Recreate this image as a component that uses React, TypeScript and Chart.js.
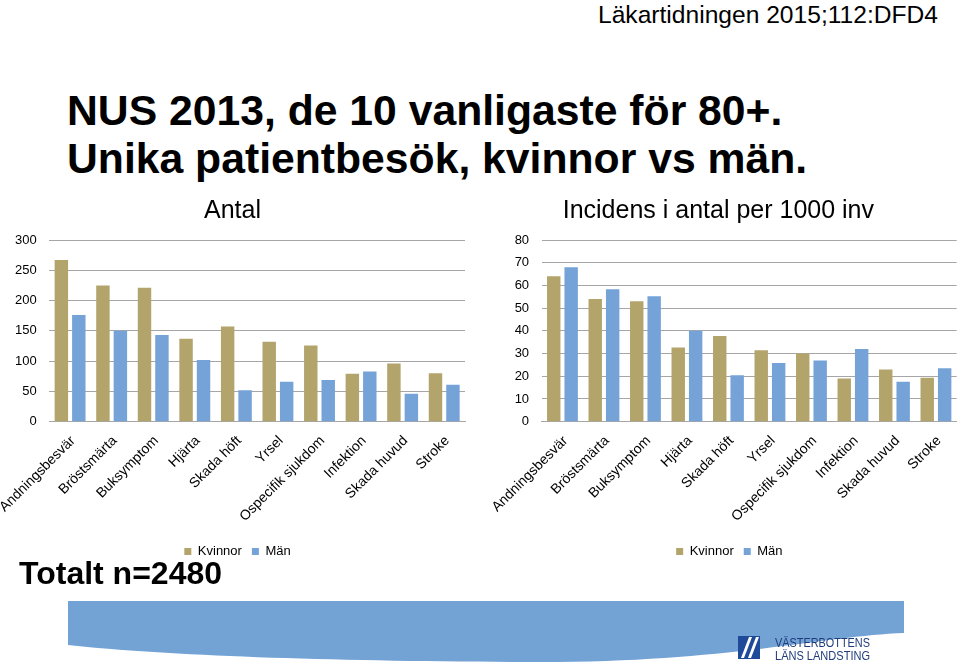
import React, { useEffect, useRef } from "react";
import { Chart, registerables } from "chart.js";

Chart.register(...registerables);

// ---------- data ----------
const categories = [
  "Andningsbesvär",
  "Bröstsmärta",
  "Buksymptom",
  "Hjärta",
  "Skada höft",
  "Yrsel",
  "Ospecifik sjukdom",
  "Infektion",
  "Skada huvud",
  "Stroke",
];
const seriesNames = ["Kvinnor", "Män"];
const antalKvinnor = [267, 225, 221, 137, 157, 132, 126, 79, 96, 80];
const antalMan = [176, 150, 143, 102, 52, 66, 69, 83, 46, 61];
const incidensKvinnor = [64, 54, 53, 32.7, 37.7, 31.5, 30, 19, 23, 19.3];
const incidensMan = [68, 58.3, 55.2, 40, 20.4, 25.8, 27, 32, 17.6, 23.5];
const antalAxis = { max: 300, step: 50 };
const incidensAxis = { max: 80, step: 10 };
const chartTitles = ["Antal", "Incidens i antal per 1000 inv"];

const TAN = "#B3A46C";
const BLUE = "#75A3D8";
const GRID = "#A6A6A6";
const FONT = '"Liberation Sans", Arial, Helvetica, sans-serif';

Chart.defaults.font.family = FONT;
Chart.defaults.color = "#000";

type Opts = {
  title: string;
  k: number[];
  m: number[];
  max: number;
  step: number;
  yWidth: number;
  padRight: number;
  legendShift: number;
};

function makeConfig(o: Opts): any {
  const legendShiftPlugin = {
    id: "legendShift",
    afterLayout(chart: any) {
      const lg = chart.legend;
      if (lg) {
        lg.left += o.legendShift;
        lg.right += o.legendShift;
      }
    },
  };
  return {
    type: "bar",
    data: {
      labels: categories,
      datasets: [
        {
          label: seriesNames[0],
          data: o.k,
          backgroundColor: TAN,
          borderWidth: 0,
          categoryPercentage: 0.84,
          barPercentage: 0.77,
        },
        {
          label: seriesNames[1],
          data: o.m,
          backgroundColor: BLUE,
          borderWidth: 0,
          categoryPercentage: 0.84,
          barPercentage: 0.77,
        },
      ],
    },
    plugins: [legendShiftPlugin],
    options: {
      responsive: false,
      animation: false,
      devicePixelRatio: 1,
      layout: { padding: { left: 0, right: o.padRight, top: 0, bottom: 0 } },
      plugins: {
        title: {
          display: true,
          text: o.title,
          color: "#000",
          font: { size: 25, weight: "normal", family: FONT, lineHeight: 1.2 },
          padding: { top: 6, bottom: 14 },
        },
        legend: {
          display: true,
          position: "bottom",
          labels: {
            boxWidth: 7,
            boxHeight: 7,
            color: "#000",
            font: { size: 13, family: FONT },
            padding: 10,
          },
        },
        tooltip: { enabled: false },
      },
      scales: {
        x: {
          grid: { display: false, drawTicks: false },
          border: { display: true, color: GRID, width: 1 },
          ticks: {
            autoSkip: false,
            minRotation: 45,
            maxRotation: 45,
            padding: 11,
            labelOffset: 3,
            color: "#000",
            font: { size: 14, family: FONT },
          },
          afterFit: (scale: any) => {
            scale.height = 113.3;
            scale.paddingLeft = 0;
            scale.paddingRight = 0;
          },
        },
        y: {
          min: 0,
          max: o.max,
          grid: { color: GRID, lineWidth: 1, drawTicks: false },
          border: { display: false },
          ticks: {
            stepSize: o.step,
            padding: 12.6,
            color: "#000",
            font: { size: 13, family: FONT },
          },
          afterFit: (scale: any) => {
            scale.width = o.yWidth;
          },
        },
      },
    },
  };
}

function BarChart(props: Opts & { left: number; top: number }) {
  const ref = useRef<HTMLCanvasElement | null>(null);
  useEffect(() => {
    if (!ref.current) return;
    const chart = new Chart(ref.current, makeConfig(props));
    return () => chart.destroy();
  }, []);
  return (
    <canvas
      ref={ref}
      width={480}
      height={378}
      style={{ position: "absolute", left: props.left, top: props.top, width: 480, height: 378 }}
    />
  );
}

export default function App() {
  return (
    <div
      style={{
        position: "fixed",
        left: 0,
        top: 0,
        width: 960,
        height: 667,
        background: "#fff",
        overflow: "hidden",
        fontFamily: FONT,
        color: "#000",
      }}
    >
      <div
        style={{
          position: "absolute",
          left: 598,
          top: 3,
          fontSize: 24.6,
          lineHeight: "24px",
          whiteSpace: "nowrap",
        }}
      >
        Läkartidningen 2015;112:DFD4
      </div>
      <div
        style={{
          position: "absolute",
          left: 67,
          top: 86,
          fontSize: 42.7,
          lineHeight: "48px",
          fontWeight: "bold",
          whiteSpace: "nowrap",
        }}
      >
        <div>NUS 2013, de 10 vanligaste för 80+.</div>
        <div>Unika patientbesök, kvinnor vs män.</div>
      </div>

      <BarChart
        left={0}
        top={190}
        title={chartTitles[0]}
        k={antalKvinnor}
        m={antalMan}
        max={antalAxis.max}
        step={antalAxis.step}
        yWidth={49.3}
        padRight={15}
        legendShift={5}
      />
      <BarChart
        left={480}
        top={190}
        title={chartTitles[1]}
        k={incidensKvinnor}
        m={incidensMan}
        max={incidensAxis.max}
        step={incidensAxis.step}
        yWidth={61.7}
        padRight={3.3}
        legendShift={11}
      />

      <div
        style={{
          position: "absolute",
          left: 19,
          top: 555,
          fontSize: 32,
          lineHeight: "36px",
          fontWeight: "bold",
          whiteSpace: "nowrap",
        }}
      >
        Totalt n=2480
      </div>

      <svg
        width={960}
        height={667}
        style={{ position: "absolute", left: 0, top: 0, pointerEvents: "none" }}
      >
        <path
          d="M68,601 L904,601 L904,633 C 820,636 720,664 520,662 C 330,661 170,656 68,645 Z"
          fill="#73A2D5"
        />
        <rect x={738} y={636} width={22} height={23} fill="#1F4A9A" />
        <path d="M741,658 L749,637 L752,637 L744,658 Z" fill="#fff" />
        <path d="M748,658 L756,637 L759,637 L751,658 Z" fill="#fff" />
        <text
          x={775}
          y={647}
          fontSize={13}
          fill="#1F3C7A"
          fontFamily={FONT}
          textLength={95}
          lengthAdjust="spacingAndGlyphs"
        >
          VÄSTERBOTTENS
        </text>
        <text
          x={775}
          y={660}
          fontSize={13}
          fill="#1F3C7A"
          fontFamily={FONT}
          textLength={95}
          lengthAdjust="spacingAndGlyphs"
        >
          LÄNS LANDSTING
        </text>
      </svg>
    </div>
  );
}
